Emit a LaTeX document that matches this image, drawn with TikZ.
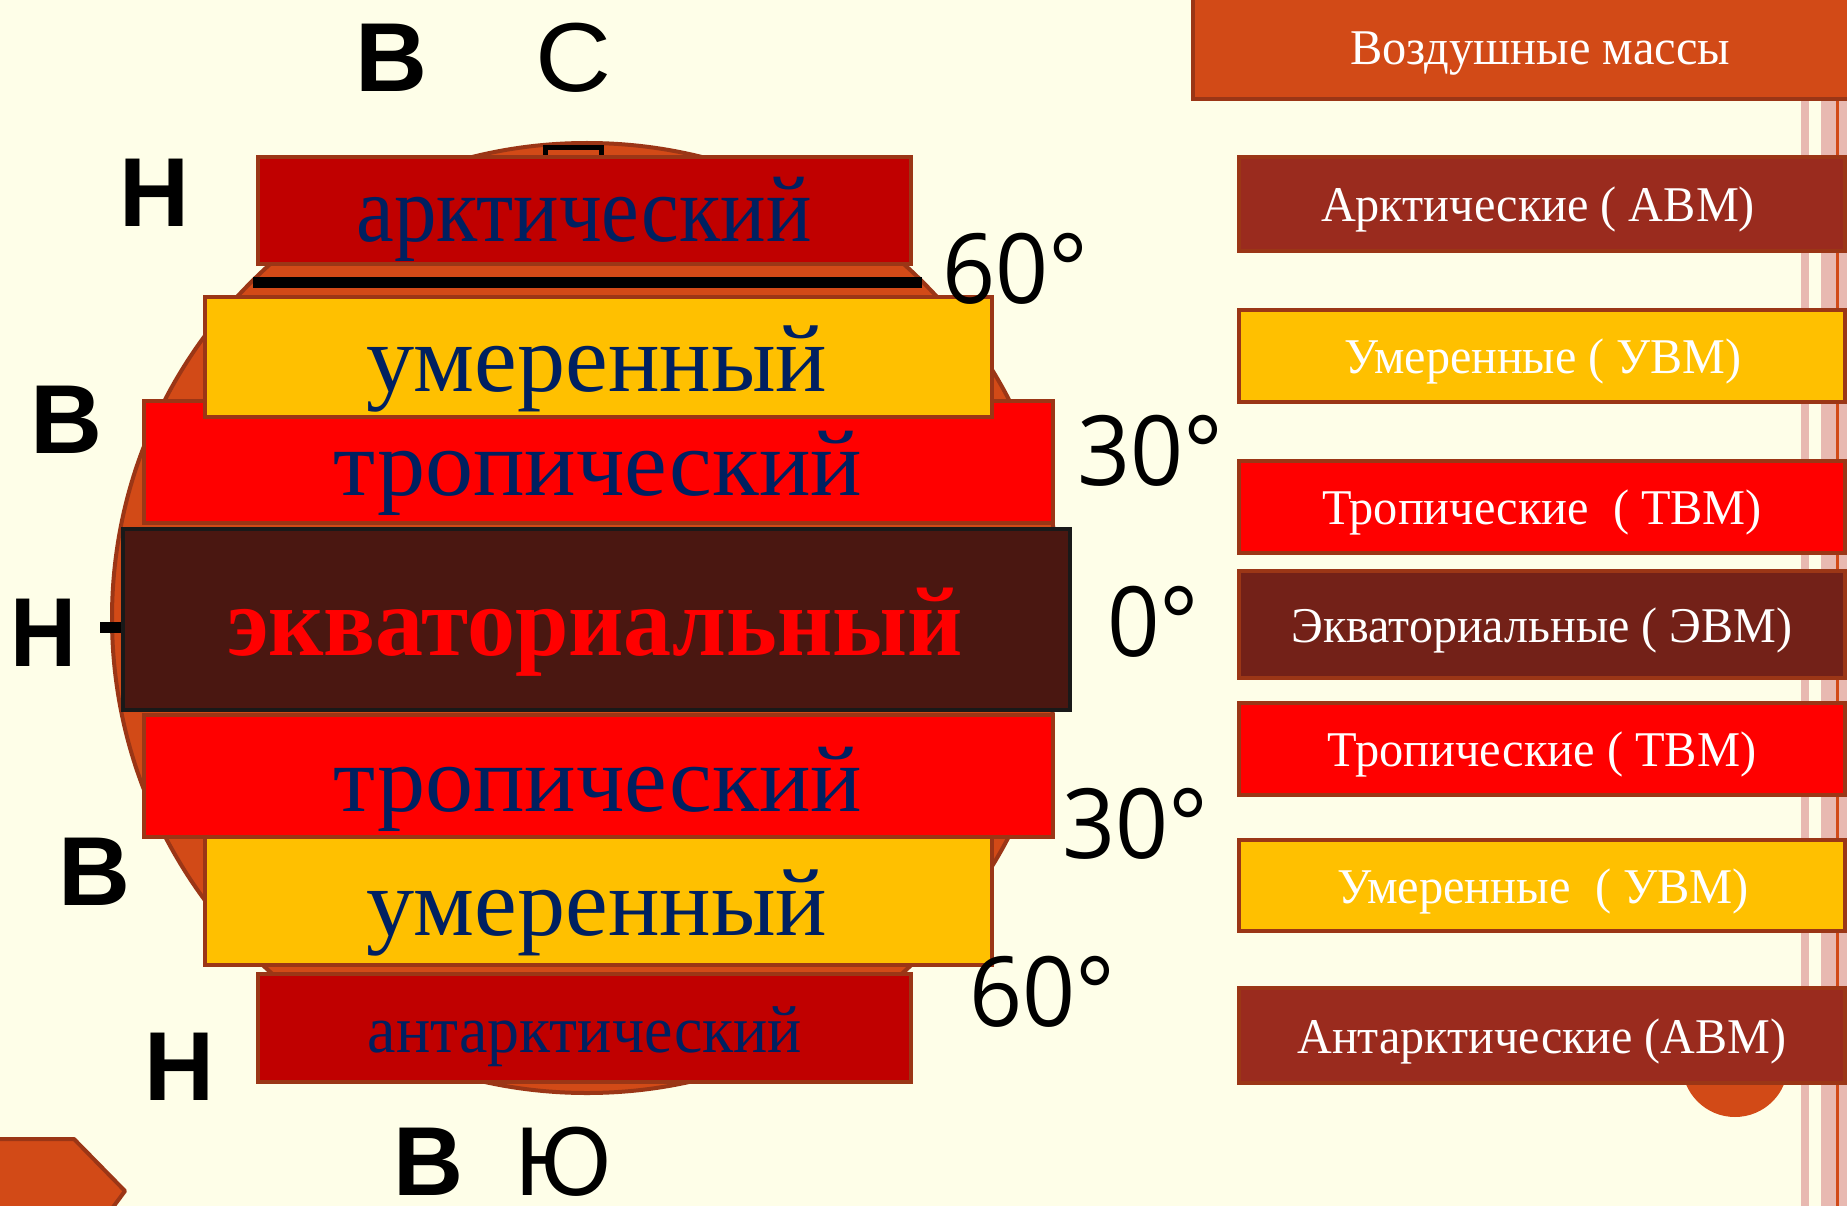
\documentclass[tikz,border=0pt]{standalone}
\usepackage{fontspec}
\usepackage{graphicx}
\setmainfont{Liberation Serif}
\newfontfamily\lsans{Liberation Sans}
\newfontfamily\osans{Open Sans}
\definecolor{bg}{HTML}{FEFEE8}
\definecolor{orng}{HTML}{D24A17}
\definecolor{bord}{HTML}{9B3616}
\definecolor{pinkst}{HTML}{E8B9B1}
\definecolor{darkred}{HTML}{C00000}
\definecolor{navy}{HTML}{002060}
\definecolor{yel}{HTML}{FFC000}
\definecolor{eqbar}{HTML}{4A1711}
\definecolor{arcbox}{HTML}{9A2B1E}
\definecolor{eqbox}{HTML}{732118}
\newcommand\hfit[2]{\resizebox{#1pt}{\height}{#2}}
\tikzset{
  barbox/.style={draw=bord, line width=4pt},
  bartext/.style={anchor=base, inner sep=0pt, text=navy, font=\fontsize{94}{100}\selectfont},
  rbox/.style={draw=bord, line width=3.5pt},
  rtext/.style={anchor=base, inner sep=0pt, text=white, font=\fontsize{50}{56}\selectfont},
  lett/.style={anchor=base, inner sep=0pt, font=\lsans\bfseries\fontsize{98}{100}\selectfont},
  lettr/.style={anchor=base, inner sep=0pt, font=\lsans\fontsize{98}{100}\selectfont},
  deg/.style={anchor=base, inner sep=0pt, font=\osans\fontsize{97}{100}\selectfont}
}
\begin{document}
\begin{tikzpicture}[x=1pt,y=-1pt]
\useasboundingbox (0,0) rectangle (1847,1206);
\fill[bg] (0,0) rectangle (1847,1206);
% right stripes
\fill[pinkst] (1801,99) rectangle (1809,1206);
\fill[pinkst] (1821,99) rectangle (1847,1206);
\fill[orng] (1836,99) rectangle (1838.5,1206);
% title box
\draw[fill=orng, draw=bord, line width=4pt] (1193,-10) rectangle (1860,99);
\node[rtext] (title) at (1540,65) {\hfit{380}{Воздушные массы}};
% small circle bottom right
\fill[orng] (1735,1064) circle (53);
% right boxes
\draw[rbox, fill=arcbox] (1239,157) rectangle (1845,251);
\draw[rbox, fill=yel] (1239,310) rectangle (1845,402);
\draw[rbox, fill=red] (1239,461) rectangle (1845,553);
\draw[rbox, fill=eqbox] (1239,571) rectangle (1845,678);
\draw[rbox, fill=red] (1239,703) rectangle (1845,795);
\draw[rbox, fill=yel] (1239,840) rectangle (1845,931);
\draw[rbox, fill=arcbox] (1239,988) rectangle (1845,1083);
\node[rtext] (r1) at (1538,222) {\hfit{434}{Арктические ( АВМ)}};
\node[rtext] (r2) at (1543,373) {\hfit{397}{Умеренные ( УВМ)}};
\node[rtext] (r3) at (1542,524) {\hfit{440}{Тропические \ ( ТВМ)}};
\node[rtext] (r4) at (1542,642) {\hfit{501}{Экваториальные ( ЭВМ)}};
\node[rtext] (r5) at (1542,766) {\hfit{429}{Тропические ( ТВМ)}};
\node[rtext] (r6) at (1543,903) {\hfit{412}{Умеренные \ ( УВМ)}};
\node[rtext] (r7) at (1542,1053) {\hfit{489}{Антарктические (АВМ)}};
% bottom-left chevron
\draw[fill=orng, draw=bord, line width=4pt, line join=round] (-10,1139) -- (74,1139) -- (125,1191) -- (105,1218) -- (-10,1218) -- cycle;
% globe
\draw[fill=orng, draw=bord, line width=4pt] (587,618) circle (475);
\draw[fill=orng, draw=black, line width=5pt] (545,148) rectangle (601,175);
\fill[black] (100,622) rectangle (130,633);
\fill[black] (253,277) rectangle (922,288);
% bars
\draw[barbox, fill=darkred] (258,157) rectangle (911,264);
\draw[barbox, fill=red] (144,401) rectangle (1053,523);
\draw[barbox, fill=yel] (205,297) rectangle (992,417);
\draw[fill=eqbar, draw=black!90, line width=4.5pt] (123,529) rectangle (1070,710);
\draw[barbox, fill=yel] (205,830) rectangle (992,965);
\draw[barbox, fill=red] (144,715) rectangle (1053,837);
\draw[barbox, fill=darkred] (258,974) rectangle (911,1082);
\node[bartext] (b1) at (584,242) {\hfit{455}{арктический}};
\node[bartext, font=\fontsize{96}{100}\selectfont] (b2) at (597,391) {\hfit{460}{умеренный}};
\node[bartext] (b3) at (598,495) {\hfit{528}{тропический}};
\node[bartext, text=red, font=\bfseries\fontsize{98}{100}\selectfont] (b4) at (595,655) {\hfit{736}{экваториальный}};
\node[bartext] (b5) at (598,811) {\hfit{528}{тропический}};
\node[bartext, font=\fontsize{96}{100}\selectfont] (b6) at (597,935) {\hfit{460}{умеренный}};
\node[bartext, font=\fontsize{67}{70}\selectfont] (b7) at (585,1052) {\hfit{434}{антарктический}};
% letters
\node[lett] (lB1) at (391,92) {\hfit{72}{В}};
\node[lettr] (lC) at (573,92) {\hfit{76}{С}};
\node[lett] (lH1) at (155,227) {\hfit{70}{Н}};
\node[lett] (lB2) at (67,453) {\hfit{72}{В}};
\node[lett] (lH2) at (44,666) {\hfit{66}{Н}};
\node[lett] (lB3) at (95,905) {\hfit{72}{В}};
\node[lett] (lH3) at (180,1100) {\hfit{70}{Н}};
\node[lett] (lB4) at (428,1195) {\hfit{70}{В}};
\node[lettr] (lJu) at (563,1195) {\hfit{96}{Ю}};
% degrees
\node[deg] (d1) at (1015,303) {\hfit{146}{60°}};
\node[deg] (d2) at (1150,485) {\hfit{146}{30°}};
\node[deg] (d3) at (1153,656) {\hfit{92}{0°}};
\node[deg] (d4) at (1135,858) {\hfit{146}{30°}};
\node[deg] (d5) at (1042,1026) {\hfit{146}{60°}};
\end{tikzpicture}
\end{document}
